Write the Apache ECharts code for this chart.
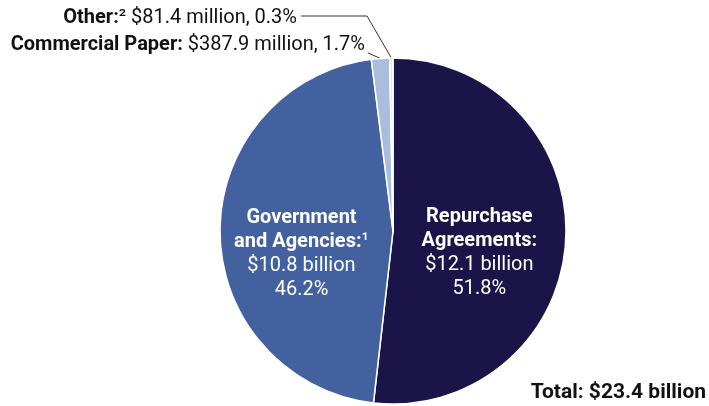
<!DOCTYPE html>
<html><head><meta charset="utf-8">
<script src="https://cdn.jsdelivr.net/npm/echarts@6/dist/echarts.min.js"></script>
<style>html,body{margin:0;padding:0;background:#fff}#c{width:709px;height:406px}</style>
</head><body><div id="c"></div>
<script>
// Data
const categories = ['Repurchase Agreements', 'Government and Agencies', 'Commercial Paper', 'Other'];
const labelTitles = ['Repurchase\nAgreements:', 'Government\nand Agencies:', 'Commercial Paper:', 'Other:'];
const footnotes = ['', '\u00b9', '', '\u00b2'];
const amountLabels = ['$12.1 billion', '$10.8 billion', '$387.9 million', '$81.4 million'];
const shares = [51.8, 46.2, 1.7, 0.3];
const totalLabel = 'Total: $23.4 billion';

const colors = ['#1b1449', '#44619f', '#a9bedf', '#dce5f2'];
const FONT = 'Roboto';

function insideFmt(i) {
  const t = labelTitles[i].split('\n').map(s => '{b|' + s + '}').join('\n');
  const fn = footnotes[i] ? '{s|' + footnotes[i] + '}' : '';
  return t + fn + '\n{n|' + amountLabels[i] + '}\n{n|' + shares[i].toFixed(1) + '%}';
}
function outsideFmt(i) {
  const fn = footnotes[i] ? '{s|' + footnotes[i] + '}' : '';
  return '{b|' + labelTitles[i] + '}' + fn + '{n| ' + amountLabels[i] + ', ' + shares[i].toFixed(1) + '%}';
}

const insideRich = {
  b: { fontFamily: FONT, fontWeight: 'bold', fontSize: 20, color: '#fff', lineHeight: 24 },
  n: { fontFamily: FONT, fontSize: 20, color: '#fff', lineHeight: 24 },
  s: { fontFamily: FONT, fontSize: 20, color: '#fff', lineHeight: 24 }
};
const outsideRich = {
  b: { fontFamily: FONT, fontWeight: 'bold', fontSize: 20, color: '#111' },
  n: { fontFamily: FONT, fontSize: 20, color: '#111' },
  s: { fontFamily: FONT, fontSize: 20, color: '#111' }
};

const data = categories.map((name, i) => {
  const inside = i < 2;
  return {
    name: name,
    value: shares[i],
    itemStyle: { color: colors[i] },
    label: inside
      ? { show: true, position: 'inside', formatter: insideFmt(i), rich: insideRich, align: 'center' }
      : { show: true, position: 'outside', formatter: outsideFmt(i), rich: outsideRich },
    labelLine: { show: !inside, lineStyle: { color: '#333', width: 1 } }
  };
});

const chart = echarts.init(document.getElementById('c'), null, { renderer: 'canvas' });
chart.setOption({
  animation: false,
  backgroundColor: '#fff',
  title: {
    text: totalLabel,
    right: 3, bottom: 3, padding: 0,
    textStyle: { fontFamily: FONT, fontWeight: 'bold', fontSize: 21, color: '#111' }
  },
  series: [{
    type: 'pie',
    center: [393, 231],
    radius: 173,
    startAngle: 90,
    clockwise: true,
    avoidLabelOverlap: false,
    itemStyle: { borderColor: '#fff', borderWidth: 1.5 },
    data: data,
    labelLayout: function (params) {
      const i = params.dataIndex;
      if (i === 0) return { dx: -3, dy: 17 };
      if (i === 1) return { dx: -2, dy: 22 };
      const p0 = params.labelLinePoints ? params.labelLinePoints[0] : [390, 58];
      if (i === 3) {
        return {
          x: 297, y: 18, align: 'right', verticalAlign: 'middle',
          labelLinePoints: [p0, [367, 16], [301, 16]]
        };
      }
      return {
        x: 365, y: 45, align: 'right', verticalAlign: 'middle',
        labelLinePoints: [p0, [368, 53], [368, 53]]
      };
    }
  }]
});
</script>
</body></html>
